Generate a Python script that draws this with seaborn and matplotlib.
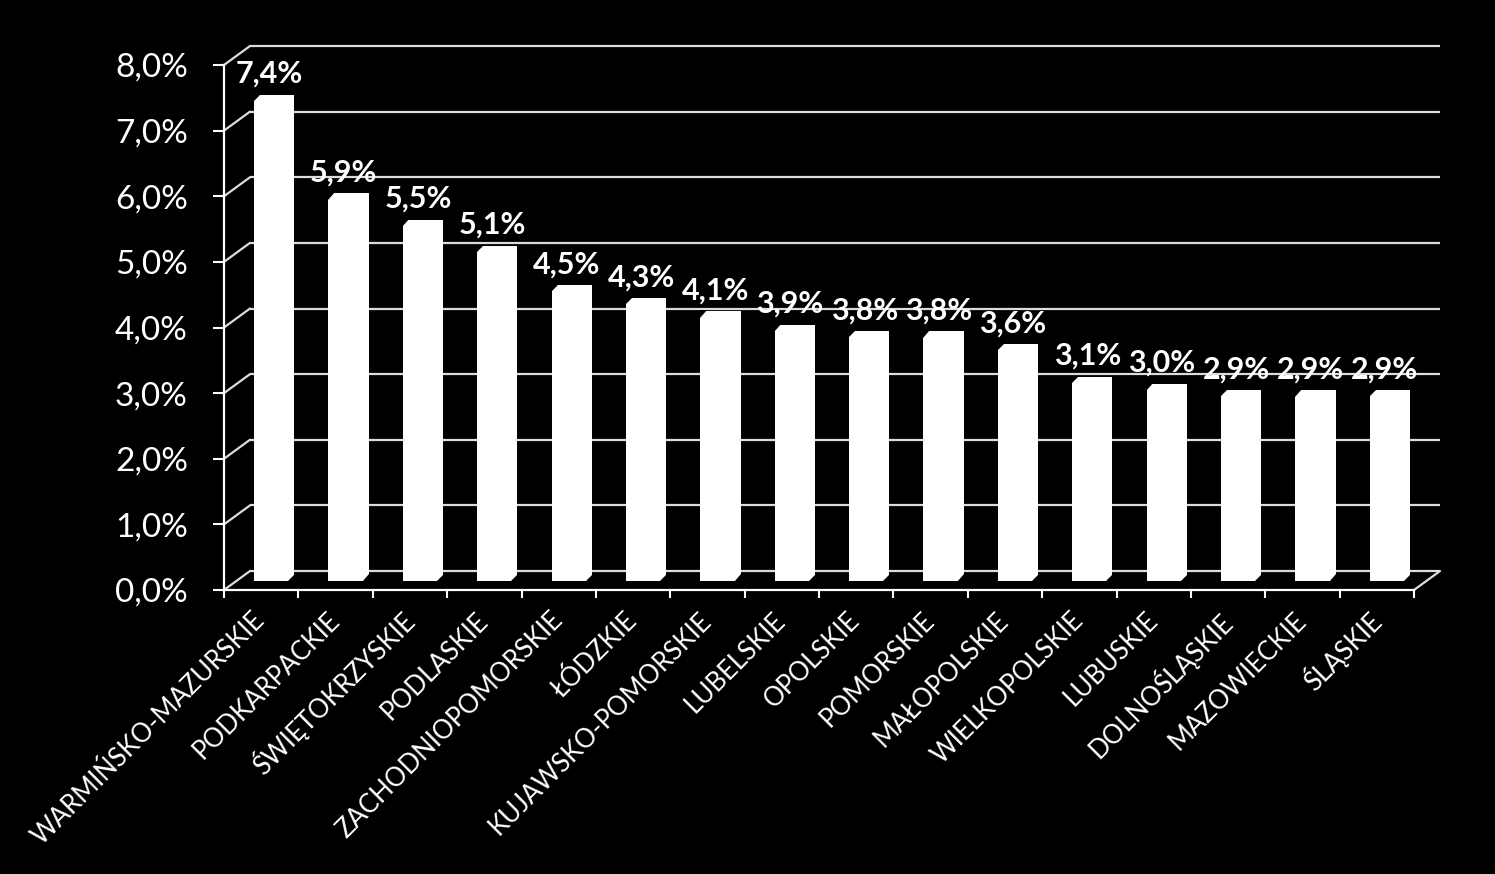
import numpy as np
import pandas as pd
import matplotlib
matplotlib.use("Agg")
import matplotlib.pyplot as plt
from matplotlib.patches import Polygon
from matplotlib.ticker import FixedLocator, FuncFormatter
import seaborn as sns

regions = ["WARMIŃSKO-MAZURSKIE", "PODKARPACKIE", "ŚWIĘTOKRZYSKIE", "PODLASKIE",
           "ZACHODNIOPOMORSKIE", "ŁÓDZKIE", "KUJAWSKO-POMORSKIE", "LUBELSKIE",
           "OPOLSKIE", "POMORSKIE", "MAŁOPOLSKIE", "WIELKOPOLSKIE", "LUBUSKIE",
           "DOLNOŚLĄSKIE", "MAZOWIECKIE", "ŚLĄSKIE"]
values = [7.4, 5.9, 5.5, 5.1, 4.5, 4.3, 4.1, 3.9, 3.8, 3.8, 3.6, 3.1, 3.0, 2.9, 2.9, 2.9]
y_ticks = [0, 1, 2, 3, 4, 5, 6, 7, 8]

df = pd.DataFrame({"region": regions, "value": values})

sns.set_theme(style="white")
plt.rcParams["font.family"] = ["Lato", "DejaVu Sans"]

W, H, DPI = 1495, 874, 100
fig = plt.figure(figsize=(W / DPI, H / DPI), dpi=DPI, facecolor="black")
ax = fig.add_axes([224 / W, 1 - 590 / H, (1414 - 224) / W, (590 - 65) / H])
ax.set_facecolor("black")

sns.barplot(data=df, x="region", y="value", color="white", width=0.54,
            saturation=1, ax=ax, zorder=2, edgecolor="none")
ax.set_xlim(-0.5, len(regions) - 0.5)
ax.set_ylim(0, 8)
ax.set_xlabel("")
ax.set_ylabel("")

# pixel -> data offsets for the pseudo-3D depth
def px2data(dx, dy):
    p0 = ax.transData.transform((0, 0))
    q = ax.transData.inverted().transform(p0 + np.array([dx, dy]))
    return q[0], q[1]

bdx, bdy = px2data(26, 19)     # back wall
mdx, mdy = px2data(13, 9.5)    # bar depth (middle)
cx, cy = px2data(7, 7)         # chamfer size

grid_col = "#dcdcdc"
x0, x1 = ax.get_xlim()
for v in y_ticks:
    ax.plot([x0 + bdx, x1 + bdx], [v + bdy, v + bdy], color=grid_col, lw=1.6,
            zorder=0.5, clip_on=False, solid_capstyle="butt")
    ax.plot([x0, x0 + bdx], [v, v + bdy], color=grid_col, lw=1.6,
            zorder=0.5, clip_on=False)
ax.plot([x1, x1 + bdx], [0, bdy], color=grid_col, lw=1.6, zorder=0.5, clip_on=False)

# shift bars to mid depth and add chamfered corners
for p in ax.patches:
    p.set_x(p.get_x() + mdx)
    p.set_y(p.get_y() + mdy)
    x, y, w, h = p.get_x(), p.get_y(), p.get_width(), p.get_height()
    top = y + h
    ax.add_patch(Polygon([(x - 0.01, top - cy), (x - 0.01, top + 0.02), (x + cx, top + 0.02)],
                         closed=True, facecolor="black", edgecolor="none", zorder=2.5))
    ax.add_patch(Polygon([(x + w - cx, y - 0.02), (x + w + 0.01, y - 0.02), (x + w + 0.01, y + cy)],
                         closed=True, facecolor="black", edgecolor="none", zorder=2.5))

# value labels
ldx, ldy = px2data(8, 12)
for i, v in enumerate(values):
    ax.text(i + ldx, v + mdy + ldy, f"{v:.1f}%".replace(".", ","), ha="center",
            va="baseline", color="white", fontsize=22, fontweight="bold", zorder=3)

# axes styling
for s in ["top", "right"]:
    ax.spines[s].set_visible(False)
for s in ["left", "bottom"]:
    ax.spines[s].set_color("white")
    ax.spines[s].set_linewidth(1.6)
    ax.spines[s].set_zorder(3)

ax.yaxis.set_major_locator(FixedLocator(y_ticks))
ax.yaxis.set_major_formatter(FuncFormatter(lambda v, _: f"{v:.1f}%".replace(".", ",")))
ax.tick_params(axis="y", colors="white", labelsize=24, length=8, width=1.5,
               direction="out", pad=18, left=True)

ax.set_xticks(range(len(regions)))
ax.set_xticklabels(regions, rotation=45, ha="right", va="center",
                   rotation_mode="anchor", color="white", fontsize=18.5)
ax.tick_params(axis="x", length=0, pad=19)
ax.set_xticks(np.arange(-0.5, len(regions)), minor=True)
ax.tick_params(axis="x", which="minor", length=6, width=1.5, color="white",
               direction="out", bottom=True)

fig.savefig("out.png", dpi=DPI, facecolor="black")
